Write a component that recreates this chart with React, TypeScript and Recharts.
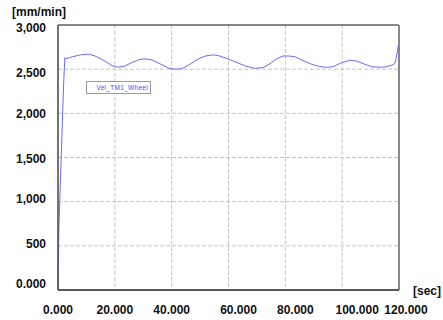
import React from "react";
import {
  LineChart,
  Line,
  XAxis,
  YAxis,
  CartesianGrid,
  ReferenceLine,
} from "recharts";

// Wheel velocity trace (sec -> mm/min)
const seriesName = "Vel_TM1_Wheel";
const timeSec = [
  0, 0.3, 2.0, 2.4, 2.8, 5, 8, 10.7, 13, 16.5, 19, 21.2, 23.5, 26, 28.5, 30.6,
  33, 36, 39, 41, 43.5, 46, 48, 50, 52, 54.7, 57, 59.9, 63, 66, 69.3, 72.2, 75,
  77, 79.3, 81.6, 83.4, 86, 89.3, 92, 94.5, 96.9, 99.5, 102.7, 105.1, 108,
  110.4, 113, 115, 117.5, 118.6, 119.2, 119.8,
];
const velocity = [
  0, 700, 2350, 2630, 2618, 2640, 2662, 2670, 2650, 2592, 2540, 2522, 2535,
  2575, 2608, 2617, 2605, 2560, 2510, 2500, 2505, 2545, 2590, 2625, 2650, 2662,
  2648, 2615, 2575, 2535, 2510, 2518, 2570, 2620, 2650, 2648, 2640, 2600, 2555,
  2530, 2521, 2528, 2570, 2600, 2592, 2555, 2528, 2522, 2524, 2545, 2566, 2660,
  2775,
];

const xTicks = [0, 20, 40, 60, 80, 100, 120];
const xTickLabels = ["0.000", "20.000", "40.000", "60.000", "80.000", "100.000", "120.000"];
const yTicks = [0, 500, 1000, 1500, 2000, 2500, 3000];
const yTickLabels = ["0.000", "500", "1,000", "1,500", "2,000", "2,500", "3,000"];

const data = timeSec.map((t, i) => ({ t, v: velocity[i] }));

const labelFont = "'Liberation Sans', Arial, sans-serif";

// label nudges so tick text sits where the plotting tool placed it
const xLabelShift = [0, 0, 0, 10, 10, 15, 7];
const yLabelShift = [-6, -2, -2.5, 1.5, 1, 3.5, 3];

const XTick = (props: any) => {
  const { x, payload, index } = props;
  const i = xTicks.indexOf(payload.value);
  return (
    <text
      x={x + (xLabelShift[i] ?? 0)}
      y={309.5}
      textAnchor="middle"
      dominantBaseline="central"
      fontFamily={labelFont}
      fontWeight="bold"
      fontSize={12}
      fill="#111"
      key={index}
    >
      {xTickLabels[i]}
    </text>
  );
};

const YTick = (props: any) => {
  const { y, payload, index } = props;
  const i = yTicks.indexOf(payload.value);
  return (
    <text
      x={46}
      y={y + (yLabelShift[i] ?? 0)}
      textAnchor="end"
      dominantBaseline="central"
      fontFamily={labelFont}
      fontWeight="bold"
      fontSize={12}
      fill="#111"
      key={index}
    >
      {yTickLabels[i]}
    </text>
  );
};

export default function App() {
  return (
    <div
      style={{
        position: "absolute",
        left: 0,
        top: 0,
        width: 443,
        height: 320,
        background: "#fff",
      }}
    >
      <LineChart
        width={443}
        height={320}
        data={data}
        margin={{ top: 25, right: 44, bottom: 0, left: 0 }}
      >
        <CartesianGrid
          stroke="#c4c4c4"
          strokeDasharray="4 2"
          horizontalValues={[500, 1000, 1500, 2000, 2500]}
          verticalValues={[20, 40, 60, 80, 100]}
        />
        <XAxis
          dataKey="t"
          type="number"
          domain={[0, 120]}
          ticks={xTicks}
          height={30}
          tickLine={false}
          axisLine={{ stroke: "#222", strokeWidth: 1.5 }}
          tick={<XTick />}
          interval={0}
        />
        <YAxis
          type="number"
          domain={[0, 3000]}
          ticks={yTicks}
          width={58}
          tickLine={false}
          axisLine={{ stroke: "#444", strokeWidth: 1.5 }}
          tick={<YTick />}
          interval={0}
        />
        <ReferenceLine y={3000} stroke="#111" strokeWidth={1} />
        <ReferenceLine x={120} stroke="#888" strokeWidth={2} />
        <Line
          type="linear"
          dataKey="v"
          name={seriesName}
          stroke="#6a6aff"
          strokeWidth={1}
          dot={false}
          isAnimationActive={false}
        />
      </LineChart>

      <div
        style={{
          position: "absolute",
          left: 12,
          top: 6,
          fontFamily: labelFont,
          fontWeight: "bold",
          fontSize: 12,
          color: "#111",
          lineHeight: "13px",
        }}
      >
        [mm/min]
      </div>
      <div
        style={{
          position: "absolute",
          left: 413,
          top: 285,
          fontFamily: labelFont,
          fontWeight: "bold",
          fontSize: 12,
          color: "#111",
          lineHeight: "13px",
        }}
      >
        [sec]
      </div>

      <div
        style={{
          position: "absolute",
          left: 86,
          top: 81,
          width: 63,
          height: 11,
          border: "1px solid #9a9a9a",
          background: "#fff",
          boxSizing: "content-box",
          display: "flex",
          alignItems: "center",
          justifyContent: "flex-end",
        }}
      >
        <span
          style={{
            fontFamily: labelFont,
            fontSize: 6.5,
            color: "#4a4aff",
            paddingRight: 2,
            letterSpacing: 0.3,
          }}
        >
          {seriesName}
        </span>
      </div>
    </div>
  );
}
